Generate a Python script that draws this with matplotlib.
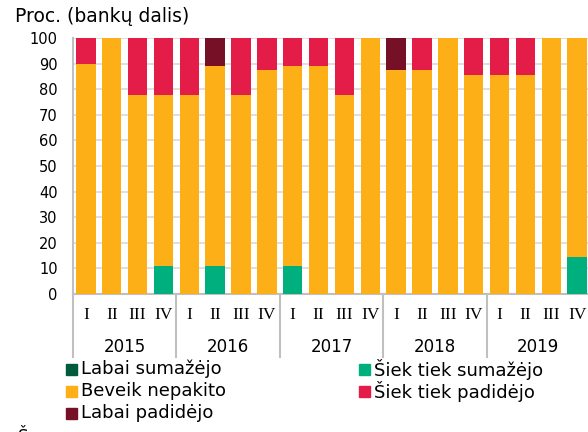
import matplotlib
matplotlib.use("Agg")
import matplotlib.pyplot as plt
import numpy as np
from matplotlib.patches import Rectangle

years = ["2015", "2016", "2017", "2018", "2019"]
quarters = ["I", "II", "III", "IV"]

series_names = ["Labai sumažėjo", "Šiek tiek sumažėjo", "Beveik nepakito",
                "Šiek tiek padidėjo", "Labai padidėjo"]
labai_sumazejo = [0]*20
siek_tiek_sumazejo = [0, 0, 0, 11.1, 0, 11.1, 0, 0, 11.1, 0, 0, 0,
                      0, 0, 0, 0, 0, 0, 0, 14.3]
beveik_nepakito = [90, 100, 77.8, 66.7, 77.8, 77.8, 77.8, 87.5, 77.8, 88.9, 77.8, 100,
                   87.5, 87.5, 100, 85.7, 85.7, 85.7, 100, 85.7]
siek_tiek_padidejo = [10, 0, 22.2, 22.2, 22.2, 0, 22.2, 12.5, 11.1, 11.1, 22.2, 0,
                      0, 12.5, 0, 14.3, 14.3, 14.3, 0, 0]
labai_padidejo = [0, 0, 0, 0, 0, 11.1, 0, 0, 0, 0, 0, 0,
                  12.5, 0, 0, 0, 0, 0, 0, 0]

colors = ["#005A3C", "#00AF7E", "#FCAF17", "#E31D48", "#751026"]
data = [labai_sumazejo, siek_tiek_sumazejo, beveik_nepakito, siek_tiek_padidejo, labai_padidejo]

W, H = 588, 432
fig = plt.figure(figsize=(W/100, H/100), dpi=100)
left, right, top, bottom = 73, 590, 38, 294
ax = fig.add_axes([left/W, 1-bottom/H, (right-left)/W, (bottom-top)/H])

n = len(beveik_nepakito)
x = np.arange(n)
base = np.zeros(n)
for vals, c in zip(data, colors):
    v = np.array(vals, dtype=float)
    ax.bar(x, v, bottom=base, width=0.75, color=c, zorder=3, linewidth=0)
    base += v

ax.set_xlim(-0.5, n-0.5)
ax.set_ylim(0, 100)
ax.set_yticks(np.arange(0, 101, 10))
ax.yaxis.grid(True, color="#D9D9D9", linewidth=1.2, zorder=0)
ax.tick_params(axis='y', length=0, pad=11, colors="#000000")
ax.set_yticklabels([str(v) for v in range(0, 101, 10)], fontsize=10.5)
ax.set_xticks([])
for s in ["top", "right"]:
    ax.spines[s].set_visible(False)
ax.spines["left"].set_color("#C0C0C0")
ax.spines["bottom"].set_color("#C0C0C0")
ax.spines["left"].set_linewidth(1.5)
ax.spines["bottom"].set_linewidth(1.5)

# quarter labels and year labels
qy = 1 - 315/H
yy = 1 - 347/H
for i in range(n):
    xp = ax.transData.transform((i, 0))[0] / W
    fig.text(xp, qy, quarters[i % 4], ha='center', va='center',
             fontsize=12.5, family='Liberation Serif')
for j, yr in enumerate(years):
    xc = 4*j + 1.5
    xp = ax.transData.transform((xc, 0))[0] / W
    fig.text(xp, yy, yr, ha='center', va='center', fontsize=12)
# separators
for j in range(len(years)+1):
    xs = ax.transData.transform((4*j - 0.5, 0))[0] / W
    fig.add_artist(plt.Line2D([xs, xs], [1-294/H, 1-357/H], color="#C0C0C0",
                              linewidth=1.5, transform=fig.transFigure))

fig.text(15/W, 1-17/H, "Proc. (bankų dalis)", ha='left', va='center', fontsize=13.5)

# legend
leg_pos = [(66, 369), (359, 369), (66, 391), (359, 391), (66, 413)]
for (lx, ly), name, c in zip(leg_pos, series_names, colors):
    fig.add_artist(Rectangle((lx/W, 1-(ly+5.5)/H), 11/W, 11/H, color=c,
                             transform=fig.transFigure))
    fig.text((lx+15)/W, 1-ly/H, name, ha='left', va='center', fontsize=13)

fig.text(18/W, 1-428/H, "Š", ha='left', va='top', fontsize=12)

fig.savefig("out.png", dpi=100)
